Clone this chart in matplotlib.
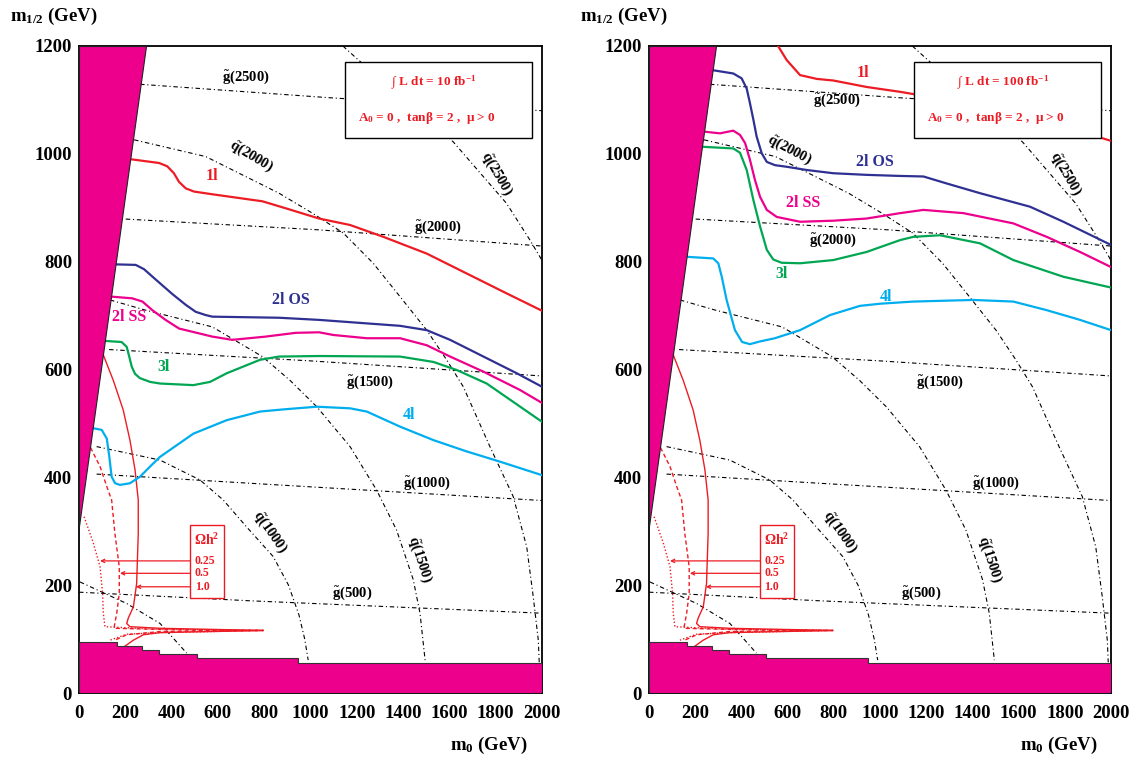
import matplotlib
matplotlib.use('Agg')
import matplotlib.pyplot as plt
from matplotlib.patches import Polygon, Rectangle

plt.rcParams['font.family'] = ['Liberation Serif', 'DejaVu Serif']
plt.rcParams['font.weight'] = 'bold'
plt.rcParams['mathtext.fontset'] = 'custom'
plt.rcParams['mathtext.rm'] = 'Liberation Serif:bold'
plt.rcParams['mathtext.it'] = 'Liberation Serif:italic:bold'
plt.rcParams['mathtext.bf'] = 'Liberation Serif:bold'
plt.rcParams['mathtext.default'] = 'rm'

RED = '#ed1c24'; NAVY = '#2e3192'; MAG = '#ec008c'; GREEN = '#00a651'; CYAN = '#00aeef'

# ---------------- data (GeV) ----------------
x_ticks = [0, 200, 400, 600, 800, 1000, 1200, 1400, 1600, 1800, 2000]
y_ticks = [0, 200, 400, 600, 800, 1000, 1200]

# theoretically excluded regions
wedge_m0 = [0, 0, 290]
wedge_m12 = [310, 1200, 1200]
floor_edges = [0, 163, 271, 347, 508, 947, 2000]
floor_m12 = [95, 88, 80, 72, 64, 56]

# gluino mass contours
gl2500_m0 = [264, 1084, 2000]; gl2500_m12 = [1129, 1104, 1080]
gl2000_m0 = [202, 1037, 2000]; gl2000_m12 = [879, 859, 829]
gl1500_m0 = [130, 1000, 2000]; gl1500_m12 = [637, 616, 588]
gl1000_m0 = [76, 739, 2000];   gl1000_m12 = [406, 389, 357]
gl500_m0 = [0, 739, 2000];     gl500_m12 = [187, 171, 148]

# squark mass contours
sq500_m0 = [4, 206, 350, 465];   sq500_m12 = [206, 166, 129, 74]
sq1000_m0 = [76, 350, 523, 623, 724, 839, 905, 950, 975, 990]
sq1000_m12 = [457, 432, 395, 358, 308, 253, 200, 145, 100, 61]
sq1500_m0 = [134, 288, 576, 792, 911, 1027, 1171, 1286, 1372, 1444, 1473, 1495]
sq1500_m12 = [729, 710, 679, 624, 580, 531, 457, 376, 302, 210, 148, 61]
sq2000_m0 = [238, 547, 864, 1008, 1142, 1271, 1387, 1502, 1588, 1660, 1775, 1876, 1934, 1962, 1984, 1988]
sq2000_m12 = [1026, 995, 927, 890, 853, 797, 735, 673, 618, 568, 457, 364, 271, 179, 98, 57]
sq2500_m0 = [1140, 1207, 1617, 1847, 1948, 1991, 2000]
sq2500_m12 = [1200, 1174, 1022, 908, 840, 809, 802]

# relic density contours (Omega h^2)
om10_m0 = [105, 148, 191, 220, 242, 256, 256, 249, 235, 213, 206, 220, 350, 796, 350, 278, 235, 199]
om10_m12 = [627, 580, 525, 469, 414, 358, 296, 203, 160, 139, 129, 123, 120, 116, 112, 108, 98, 87]
om05_m0 = [50, 91, 120, 141, 155, 174, 174, 163, 151, 350, 796, 350, 206, 155]
om05_m12 = [455, 420, 383, 358, 296, 234, 185, 148, 120, 118, 116, 114, 108, 98]
om025_m0 = [22, 62, 91, 102, 105, 112, 350, 796, 350, 206, 134]
om025_m12 = [327, 278, 234, 185, 148, 123, 118, 116, 112, 109, 98]
om_levels = ['0.25', '0.5', '1.0']
om_label_m12 = [245, 222, 197]
om_arrow_tip = [91, 177, 246]

# 5 sigma discovery contours, 10 fb^-1
L_1l_m0 = [223, 346, 381, 410, 432, 461, 497, 576, 792, 893, 1037, 1171, 1315, 1502, 1675, 1848, 2000]
L_1l_m12 = [990, 983, 977, 964, 948, 936, 930, 925, 912, 899, 880, 868, 846, 815, 778, 741, 709]
L_os_m0 = [158, 245, 281, 331, 403, 461, 504, 547, 576, 720, 864, 1037, 1387, 1502, 1603, 1747, 1891, 2000]
L_os_m12 = [795, 794, 786, 767, 740, 720, 707, 701, 698, 697, 696, 692, 681, 673, 655, 624, 593, 568]
L_ss_m0 = [144, 230, 274, 317, 374, 432, 576, 662, 806, 936, 1037, 1099, 1243, 1387, 1502, 1603, 1747, 1905, 2000]
L_ss_m12 = [735, 732, 726, 710, 692, 676, 661, 655, 661, 668, 669, 664, 658, 658, 645, 624, 596, 562, 538]
L_3l_m0 = [112, 184, 206, 217, 228, 242, 263, 307, 350, 494, 566, 638, 782, 864, 1037, 1387, 1531, 1632, 1761, 2000]
L_3l_m12 = [653, 651, 642, 624, 605, 592, 584, 577, 574, 571, 577, 593, 618, 624, 625, 624, 614, 599, 574, 503]
L_4l_m0 = [62, 98, 120, 131, 141, 156, 177, 220, 263, 307, 350, 494, 638, 782, 883, 1027, 1171, 1243, 1387, 1531, 1675, 1819, 2000]
L_4l_m12 = [491, 488, 472, 438, 401, 389, 386, 389, 401, 420, 438, 481, 506, 522, 526, 531, 528, 522, 494, 469, 448, 429, 404]

# 5 sigma discovery contours, 100 fb^-1
H_1l_m0 = [560, 596, 654, 726, 798, 942, 1087, 1500, 1955, 2000]
H_1l_m12 = [1199, 1174, 1146, 1139, 1136, 1124, 1115, 1085, 1030, 1024]
H_os_m0 = [278, 365, 401, 423, 437, 452, 466, 488, 510, 545, 596, 683, 798, 942, 1087, 1188, 1289, 1433, 1649, 1794, 2000]
H_os_m12 = [1155, 1149, 1140, 1121, 1094, 1063, 1032, 1001, 985, 979, 976, 970, 964, 961, 959, 958, 945, 927, 902, 874, 831]
H_ss_m0 = [242, 307, 365, 394, 416, 437, 459, 481, 510, 553, 654, 798, 942, 1087, 1188, 1361, 1577, 1722, 1866, 2000]
H_ss_m12 = [1041, 1038, 1043, 1035, 1020, 989, 951, 920, 896, 883, 874, 876, 880, 890, 896, 890, 871, 846, 818, 790]
H_3l_m0 = [235, 365, 394, 423, 452, 481, 510, 538, 574, 654, 798, 942, 1087, 1144, 1260, 1433, 1577, 1794, 2000]
H_3l_m12 = [1013, 1010, 1002, 970, 914, 865, 822, 804, 798, 797, 803, 818, 840, 846, 849, 834, 803, 772, 752]
H_4l_m0 = [163, 278, 300, 315, 336, 372, 403, 437, 480, 545, 654, 784, 913, 1000, 1144, 1404, 1577, 1722, 1866, 2000]
H_4l_m12 = [809, 806, 797, 772, 729, 673, 651, 647, 652, 658, 673, 701, 718, 722, 726, 729, 726, 710, 692, 673]

lumi_text = [r'$\int$ L dt = 10 fb$^{-1}$', r'$\int$ L dt = 100 fb$^{-1}$']
param_text = r'A$_0$ = 0 ,  tan$\beta$ = 2 ,  $\mu$ > 0'

# ---------------- drawing ----------------
fig = plt.figure(figsize=(11.37, 7.61), dpi=100)
axL = fig.add_axes([79/1137, 68/761, 463/1137, 647/761])
axR = fig.add_axes([649/1137, 68/761, 462/1137, 647/761])

DD = (0, (4, 2.5, 1, 2.5))


def common(ax, lumi):
    ax.set_xlim(0, 2000)
    ax.set_ylim(0, 1200)
    ax.set_xticks(x_ticks)
    ax.set_yticks(y_ticks)
    ax.tick_params(length=0, labelsize=13.5)
    ax.tick_params(axis='x', pad=9)
    ax.tick_params(axis='y', pad=5)
    for lab in ax.get_xticklabels() + ax.get_yticklabels():
        lab.set_fontweight('bold')
    for s in ax.spines.values():
        s.set_linewidth(1.3)
    # excluded regions
    ax.add_patch(Polygon(list(zip(wedge_m0, wedge_m12)), closed=True,
                         facecolor=MAG, edgecolor='#222222', lw=0.8, zorder=5))
    pts = [(floor_edges[0], 0)]
    for i, lev in enumerate(floor_m12):
        pts.append((floor_edges[i], lev))
        pts.append((floor_edges[i + 1], lev))
    pts.append((floor_edges[-1], 0))
    ax.add_patch(Polygon(pts, closed=True, facecolor=MAG, edgecolor='#333333',
                         lw=0.8, zorder=5))
    # mass contours
    for xs, ys in [(gl2500_m0, gl2500_m12), (gl2000_m0, gl2000_m12), (gl1500_m0, gl1500_m12),
                   (gl1000_m0, gl1000_m12), (gl500_m0, gl500_m12),
                   (sq500_m0, sq500_m12), (sq1000_m0, sq1000_m12), (sq1500_m0, sq1500_m12),
                   (sq2000_m0, sq2000_m12), (sq2500_m0, sq2500_m12)]:
        ax.plot(xs, ys, color='black', lw=0.8, ls=DD, zorder=2)
    # relic density
    ax.plot(om10_m0, om10_m12, color=RED, lw=1.0, zorder=3)
    ax.plot(om05_m0, om05_m12, color=RED, lw=1.0, ls=(0, (3, 2)), zorder=3)
    ax.plot(om025_m0, om025_m12, color=RED, lw=1.0, ls=(0, (1, 1.5)), zorder=3)
    ax.add_patch(Rectangle((480, 176), 146, 136, facecolor='white', edgecolor=RED,
                           lw=1.0, zorder=4))
    ax.text(551, 283, r'$\Omega$h$^2$', color=RED, fontsize=10, ha='center',
            va='center', zorder=6)
    for lev, y, tip in zip(om_levels, om_label_m12, om_arrow_tip):
        ax.text(500, y, lev, color=RED, fontsize=8.5, ha='left', va='center', zorder=6)
        ax.annotate('', xy=(tip, y), xytext=(480, y),
                    arrowprops=dict(arrowstyle='->', color=RED, lw=0.9,
                                    mutation_scale=6, shrinkA=0, shrinkB=0), zorder=6)
    # info box
    ax.add_patch(Rectangle((1149, 1029), 806, 141, facecolor='white', edgecolor='black',
                           lw=1.0, zorder=4))
    ax.text(1532, 1131, lumi, color=RED, fontsize=9.5, ha='center', va='center', zorder=6)
    ax.text(1503, 1066, param_text, color=RED, fontsize=9.5, ha='center', va='center',
            zorder=6)
    # common mass labels
    kw = dict(fontsize=10.5, ha='center', va='center', zorder=6)
    ax.text(1804, 964, r'$\tilde{q}$(2500)', rotation=-60, **kw)
    ax.text(1257, 577, r'$\tilde{g}$(1500)', **kw)
    ax.text(1502, 389, r'$\tilde{g}$(1000)', **kw)
    ax.text(825, 299, r'$\tilde{q}$(1000)', rotation=-55, **kw)
    ax.text(1473, 247, r'$\tilde{q}$(1500)', rotation=-72, **kw)
    ax.text(1178, 185, r'$\tilde{g}$(500)', **kw)
    return kw


kw = common(axL, lumi_text[0])
axL.text(721, 1143, r'$\tilde{g}$(2500)', **kw)
axL.text(742, 995, r'$\tilde{q}$(2000)', rotation=-31, **kw)
axL.text(1552, 865, r'$\tilde{g}$(2000)', **kw)
for xs, ys, c in [(L_1l_m0, L_1l_m12, RED), (L_os_m0, L_os_m12, NAVY),
                  (L_ss_m0, L_ss_m12, MAG), (L_3l_m0, L_3l_m12, GREEN),
                  (L_4l_m0, L_4l_m12, CYAN)]:
    axL.plot(xs, ys, color=c, lw=1.6, zorder=3, solid_joinstyle='round')
lk = dict(fontsize=11.5, ha='center', va='center', zorder=6)
axL.text(576, 958, '1l', color=RED, **lk)
axL.text(914, 729, '2l OS', color=NAVY, **lk)
axL.text(216, 698, '2l SS', color=MAG, **lk)
axL.text(367, 605, '3l', color=GREEN, **lk)
axL.text(1427, 516, '4l', color=CYAN, **lk)

kw = common(axR, lumi_text[1])
axR.text(812, 1100, r'$\tilde{g}$(2500)', **kw)
axR.text(610, 1007, r'$\tilde{q}$(2000)', rotation=-28, **kw)
axR.text(798, 840, r'$\tilde{g}$(2000)', **kw)
for xs, ys, c in [(H_1l_m0, H_1l_m12, RED), (H_os_m0, H_os_m12, NAVY),
                  (H_ss_m0, H_ss_m12, MAG), (H_3l_m0, H_3l_m12, GREEN),
                  (H_4l_m0, H_4l_m12, CYAN)]:
    axR.plot(xs, ys, color=c, lw=1.6, zorder=3, solid_joinstyle='round')
axR.text(928, 1149, '1l', color=RED, **lk)
axR.text(978, 985, '2l OS', color=NAVY, **lk)
axR.text(668, 908, '2l SS', color=MAG, **lk)
axR.text(574, 778, '3l', color=GREEN, **lk)
axR.text(1026, 735, '4l', color=CYAN, **lk)

# axis titles
for x0 in [10, 580]:
    fig.text(x0/1137, 1 - 16/761, r'm$_{1/2}$ (GeV)', fontsize=13.5, ha='left', va='center')
for xc in [489, 1059]:
    fig.text(xc/1137, 1 - 745/761, r'm$_0$ (GeV)', fontsize=13.5, ha='center', va='center')

fig.savefig('out.png', dpi=100)
